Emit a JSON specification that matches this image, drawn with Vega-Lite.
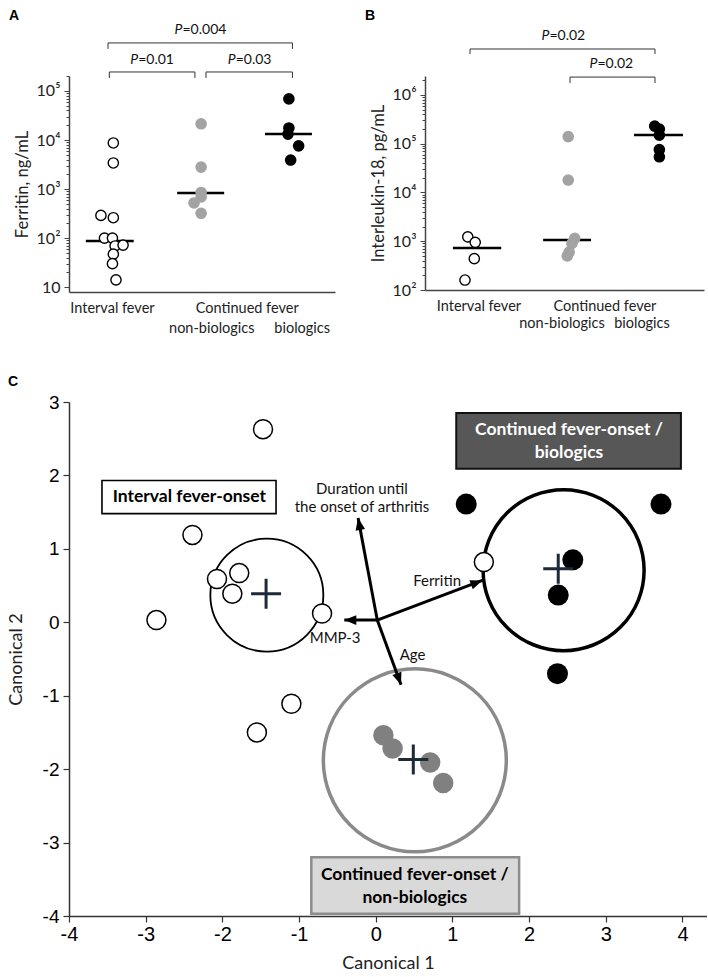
{
  "$schema": "https://vega.github.io/schema/vega-lite/v6.json",
  "padding": {"left": 7, "top": 8, "right": 0, "bottom": 0},
  "background": "white",
  "bounds": "flush",
  "spacing": 326,
  "config": {"view": {"stroke": null}, "axis": {"grid": false}, "font": "Lato"},
  "datasets": {
    "aPoints": [
      {"group": "Interval fever", "pos": 0.50, "ferritin": 8700},
      {"group": "Interval fever", "pos": 0.50, "ferritin": 3400},
      {"group": "Interval fever", "pos": 0.36, "ferritin": 290},
      {"group": "Interval fever", "pos": 0.50, "ferritin": 260},
      {"group": "Interval fever", "pos": 0.40, "ferritin": 100},
      {"group": "Interval fever", "pos": 0.49, "ferritin": 100},
      {"group": "Interval fever", "pos": 0.52, "ferritin": 69},
      {"group": "Interval fever", "pos": 0.61, "ferritin": 72},
      {"group": "Interval fever", "pos": 0.50, "ferritin": 47},
      {"group": "Interval fever", "pos": 0.49, "ferritin": 30},
      {"group": "Interval fever", "pos": 0.53, "ferritin": 14},
      {"group": "Continued fever, non-biologics", "pos": 1.49, "ferritin": 21400},
      {"group": "Continued fever, non-biologics", "pos": 1.49, "ferritin": 2800},
      {"group": "Continued fever, non-biologics", "pos": 1.49, "ferritin": 850},
      {"group": "Continued fever, non-biologics", "pos": 1.49, "ferritin": 690},
      {"group": "Continued fever, non-biologics", "pos": 1.41, "ferritin": 520},
      {"group": "Continued fever, non-biologics", "pos": 1.49, "ferritin": 320},
      {"group": "Continued fever, biologics", "pos": 2.48, "ferritin": 69000},
      {"group": "Continued fever, biologics", "pos": 2.48, "ferritin": 17600},
      {"group": "Continued fever, biologics", "pos": 2.47, "ferritin": 13200},
      {"group": "Continued fever, biologics", "pos": 2.59, "ferritin": 7600},
      {"group": "Continued fever, biologics", "pos": 2.50, "ferritin": 3900}
    ],
    "aMedian": [
      {"group": "Interval fever", "x1": 0.19, "x2": 0.73, "median": 87},
      {"group": "Continued fever, non-biologics", "x1": 1.22, "x2": 1.75, "median": 830},
      {"group": "Continued fever, biologics", "x1": 2.21, "x2": 2.74, "median": 13200}
    ],
    "aBrackets": [
      {"x1": 0.44, "x2": 2.52, "yb": 955000, "yt": 720000, "xs": 1.28, "yl": 1760000, "rest": "=0.004"},
      {"x1": 0.455, "x2": 1.42, "yb": 244000, "yt": 184000, "xs": 0.78, "yl": 430000, "rest": "=0.01"},
      {"x1": 1.545, "x2": 2.52, "yb": 244000, "yt": 184000, "xs": 1.88, "yl": 430000, "rest": "=0.03"}
    ],
    "aLabels": [
      {"x": 0.49, "y": 3.56, "label": "Interval fever"},
      {"x": 2.01, "y": 3.56, "label": "Continued fever"},
      {"x": 1.61, "y": 1.39, "label": "non-biologics"},
      {"x": 2.63, "y": 1.39, "label": "biologics"}
    ],
    "bPoints": [
      {"group": "Interval fever", "pos": 0.46, "il18": 1230},
      {"group": "Interval fever", "pos": 0.54, "il18": 950},
      {"group": "Interval fever", "pos": 0.53, "il18": 440},
      {"group": "Interval fever", "pos": 0.43, "il18": 160},
      {"group": "Continued fever, non-biologics", "pos": 1.54, "il18": 140000},
      {"group": "Continued fever, non-biologics", "pos": 1.54, "il18": 18000},
      {"group": "Continued fever, non-biologics", "pos": 1.61, "il18": 1150},
      {"group": "Continued fever, non-biologics", "pos": 1.58, "il18": 900},
      {"group": "Continued fever, non-biologics", "pos": 1.55, "il18": 600},
      {"group": "Continued fever, non-biologics", "pos": 1.53, "il18": 500},
      {"group": "Continued fever, biologics", "pos": 2.47, "il18": 230000},
      {"group": "Continued fever, biologics", "pos": 2.52, "il18": 200000},
      {"group": "Continued fever, biologics", "pos": 2.52, "il18": 150000},
      {"group": "Continued fever, biologics", "pos": 2.52, "il18": 76000},
      {"group": "Continued fever, biologics", "pos": 2.52, "il18": 54000}
    ],
    "bMedian": [
      {"group": "Interval fever", "x1": 0.30, "x2": 0.82, "median": 726},
      {"group": "Continued fever, non-biologics", "x1": 1.27, "x2": 1.785, "median": 1060},
      {"group": "Continued fever, biologics", "x1": 2.247, "x2": 2.774, "median": 151000}
    ],
    "bBrackets": [
      {"x1": 0.484, "x2": 2.473, "yb": 8770000, "yt": 6920000, "xs": 1.338, "yl": 16200000, "rest": "=0.02"},
      {"x1": 1.559, "x2": 2.473, "yb": 2330000, "yt": 1760000, "xs": 1.854, "yl": 4310000, "rest": "=0.02"}
    ],
    "bLabels": [
      {"x": 0.58, "y": 44.7, "label": "Interval fever"},
      {"x": 1.935, "y": 44.7, "label": "Continued fever"},
      {"x": 1.473, "y": 20.0, "label": "non-biologics"},
      {"x": 2.333, "y": 20.0, "label": "biologics"}
    ],
    "cPoints": [
      {"group": "Interval fever-onset", "canonical1": -1.47, "canonical2": 2.63},
      {"group": "Interval fever-onset", "canonical1": -2.39, "canonical2": 1.19},
      {"group": "Interval fever-onset", "canonical1": -2.86, "canonical2": 0.03},
      {"group": "Interval fever-onset", "canonical1": -2.07, "canonical2": 0.59},
      {"group": "Interval fever-onset", "canonical1": -1.78, "canonical2": 0.67},
      {"group": "Interval fever-onset", "canonical1": -1.87, "canonical2": 0.39},
      {"group": "Interval fever-onset", "canonical1": -0.70, "canonical2": 0.12},
      {"group": "Interval fever-onset", "canonical1": -1.10, "canonical2": -1.11},
      {"group": "Interval fever-onset", "canonical1": -1.55, "canonical2": -1.50},
      {"group": "Interval fever-onset", "canonical1": 1.41, "canonical2": 0.82},
      {"group": "Continued fever-onset / biologics", "canonical1": 1.18, "canonical2": 1.61},
      {"group": "Continued fever-onset / biologics", "canonical1": 3.72, "canonical2": 1.61},
      {"group": "Continued fever-onset / biologics", "canonical1": 2.57, "canonical2": 0.85},
      {"group": "Continued fever-onset / biologics", "canonical1": 2.38, "canonical2": 0.37},
      {"group": "Continued fever-onset / biologics", "canonical1": 2.37, "canonical2": -0.70},
      {"group": "Continued fever-onset / non-biologics", "canonical1": 0.10, "canonical2": -1.54},
      {"group": "Continued fever-onset / non-biologics", "canonical1": 0.22, "canonical2": -1.72},
      {"group": "Continued fever-onset / non-biologics", "canonical1": 0.71, "canonical2": -1.91},
      {"group": "Continued fever-onset / non-biologics", "canonical1": 0.88, "canonical2": -2.19}
    ],
    "cCentroids": [
      {"group": "Interval fever-onset", "canonical1": -1.43, "canonical2": 0.39},
      {"group": "Continued fever-onset / biologics", "canonical1": 2.38, "canonical2": 0.73},
      {"group": "Continued fever-onset / non-biologics", "canonical1": 0.49, "canonical2": -1.87}
    ],
    "cRings": [
      {"group": "Interval fever-onset", "canonical1": -1.42, "canonical2": 0.37},
      {"group": "Continued fever-onset / biologics", "canonical1": 2.45, "canonical2": 0.71},
      {"group": "Continued fever-onset / non-biologics", "canonical1": 0.51, "canonical2": -1.88}
    ],
    "cArrows": [
      {"variable": "MMP-3", "ox": 0.02, "oy": 0.03, "tx": -0.41, "ty": 0.03},
      {"variable": "Ferritin", "ox": 0.02, "oy": 0.03, "tx": 1.39, "ty": 0.57},
      {"variable": "Duration until the onset of arthritis", "ox": 0.02, "oy": 0.03, "tx": -0.23, "ty": 1.42},
      {"variable": "Age", "ox": 0.02, "oy": 0.03, "tx": 0.33, "ty": -0.85}
    ],
    "cArrowLabels": [
      {"label": "Duration until\nthe onset of arthritis", "x": -0.18, "y": 1.815},
      {"label": "Ferritin", "x": 0.80, "y": 0.56},
      {"label": "MMP-3", "x": -0.53, "y": -0.21},
      {"label": "Age", "x": 0.48, "y": -0.44}
    ],
    "cBoxes": [
      {"group": "Interval fever-onset", "x1": -3.57, "x2": -1.30, "y1": 1.93, "y2": 1.48, "cx": -2.43, "cy": 1.70, "text": "Interval fever-onset"},
      {"group": "Continued fever-onset / biologics", "x1": 1.05, "x2": 3.98, "y1": 2.85, "y2": 2.09, "cx": 2.52, "cy": 2.62, "text": "Continued fever-onset /\nbiologics"},
      {"group": "Continued fever-onset / non-biologics", "x1": -0.84, "x2": 1.87, "y1": -3.20, "y2": -3.97, "cx": 0.51, "cy": -3.435, "text": "Continued fever-onset /\nnon-biologics"}
    ]
  },
  "vconcat": [
    {
      "bounds": "flush",
      "spacing": 90,
      "hconcat": [
        {
          "width": 266,
          "height": 216,
          "title": {"text": "A", "anchor": "start", "frame": "group", "dx": -60, "offset": -11, "baseline": "alphabetic", "font": "Liberation Sans", "fontSize": 14, "fontWeight": "bold", "color": "#000"},
          "layer": [
            {
              "data": {"name": "aMedian"},
              "mark": {"type": "rule", "strokeWidth": 2.5, "color": "#000"},
              "encoding": {
                "x": {"field": "x1", "type": "quantitative", "scale": {"domain": [0, 3], "nice": false, "zero": false}, "axis": {"labels": false, "ticks": false, "title": null, "domainColor": "#444", "domainWidth": 1.5}},
                "x2": {"field": "x2"},
                "y": {"field": "median", "type": "quantitative", "scale": {"type": "log", "domain": [7.94, 202000], "nice": false},
                  "axis": {
                    "values": [10,20,30,40,50,60,70,80,90,100,200,300,400,500,600,700,800,900,1000,2000,3000,4000,5000,6000,7000,8000,9000,10000,20000,30000,40000,50000,60000,70000,80000,90000,100000,200000],
                    "labelExpr": "datum.value == 10 ? '10' : datum.value == 100 ? '10²' : datum.value == 1000 ? '10³' : datum.value == 10000 ? '10⁴' : datum.value == 100000 ? '10⁵' : ''",
                    "tickSize": {"condition": {"test": "indexof([10,100,1000,10000,100000], datum.value) >= 0", "value": 5}, "value": 3},
                    "labelOverlap": false, "labelFlush": false, "labelFont": "Lato", "labelFontSize": 16, "labelColor": "#222", "labelPadding": 4,
                    "domainColor": "#444", "domainWidth": 1.5, "tickColor": "#444", "tickWidth": 1,
                    "title": "Ferritin, ng/mL", "titleFont": "Lato", "titleFontSize": 16.5, "titleFontWeight": "normal", "titleColor": "#222", "titlePadding": 6
                  }}
              }
            },
            {
              "data": {"name": "aPoints"},
              "mark": {"type": "circle", "size": 105, "strokeWidth": 1.4, "opacity": 1},
              "encoding": {
                "x": {"field": "pos", "type": "quantitative", "scale": {"domain": [0, 3], "nice": false, "zero": false}},
                "y": {"field": "ferritin", "type": "quantitative", "scale": {"type": "log", "domain": [7.94, 202000], "nice": false}},
                "fill": {"field": "group", "type": "nominal", "scale": {"domain": ["Interval fever", "Continued fever, non-biologics", "Continued fever, biologics"], "range": ["#ffffff", "#a3a3a3", "#000000"]}, "legend": null},
                "stroke": {"field": "group", "type": "nominal", "scale": {"domain": ["Interval fever", "Continued fever, non-biologics", "Continued fever, biologics"], "range": ["#000000", "#a3a3a3", "#000000"]}, "legend": null}
              }
            },
            {
              "data": {"name": "aBrackets"},
              "mark": {"type": "rule", "strokeWidth": 1, "color": "#333"},
              "encoding": {
                "x": {"field": "x1", "type": "quantitative", "scale": {"domain": [0, 3], "nice": false, "zero": false}},
                "x2": {"field": "x2"},
                "y": {"field": "yb", "type": "quantitative", "scale": {"type": "log", "domain": [7.94, 202000], "nice": false}}
              }
            },
            {
              "data": {"name": "aBrackets"},
              "mark": {"type": "rule", "strokeWidth": 1, "color": "#333"},
              "encoding": {
                "x": {"field": "x1", "type": "quantitative", "scale": {"domain": [0, 3], "nice": false, "zero": false}},
                "y": {"field": "yb", "type": "quantitative", "scale": {"type": "log", "domain": [7.94, 202000], "nice": false}},
                "y2": {"field": "yt"}
              }
            },
            {
              "data": {"name": "aBrackets"},
              "mark": {"type": "rule", "strokeWidth": 1, "color": "#333"},
              "encoding": {
                "x": {"field": "x2", "type": "quantitative", "scale": {"domain": [0, 3], "nice": false, "zero": false}},
                "y": {"field": "yb", "type": "quantitative", "scale": {"type": "log", "domain": [7.94, 202000], "nice": false}},
                "y2": {"field": "yt"}
              }
            },
            {
              "data": {"name": "aBrackets"},
              "mark": {"type": "text", "align": "right", "baseline": "middle", "font": "Lato", "fontSize": 14, "fontStyle": "italic", "color": "#111"},
              "encoding": {
                "x": {"field": "xs", "type": "quantitative", "scale": {"domain": [0, 3], "nice": false, "zero": false}},
                "y": {"field": "yl", "type": "quantitative", "scale": {"type": "log", "domain": [7.94, 202000], "nice": false}},
                "text": {"value": "P"}
              }
            },
            {
              "data": {"name": "aBrackets"},
              "mark": {"type": "text", "align": "left", "baseline": "middle", "font": "Lato", "fontSize": 14, "color": "#111"},
              "encoding": {
                "x": {"field": "xs", "type": "quantitative", "scale": {"domain": [0, 3], "nice": false, "zero": false}},
                "y": {"field": "yl", "type": "quantitative", "scale": {"type": "log", "domain": [7.94, 202000], "nice": false}},
                "text": {"field": "rest"}
              }
            },
            {
              "data": {"name": "aLabels"},
              "mark": {"type": "text", "align": "center", "baseline": "middle", "font": "Lato", "fontSize": 14.5, "color": "#222"},
              "encoding": {
                "x": {"field": "x", "type": "quantitative", "scale": {"domain": [0, 3], "nice": false, "zero": false}},
                "y": {"field": "y", "type": "quantitative", "scale": {"type": "log", "domain": [7.94, 202000], "nice": false}},
                "text": {"field": "label"}
              }
            }
          ]
        },
        {
          "width": 279,
          "height": 214,
          "title": {"text": "B", "anchor": "start", "frame": "group", "dx": -60, "offset": -5, "baseline": "alphabetic", "font": "Liberation Sans", "fontSize": 14, "fontWeight": "bold", "color": "#000"},
          "layer": [
            {
              "data": {"name": "bMedian"},
              "mark": {"type": "rule", "strokeWidth": 2.5, "color": "#000"},
              "encoding": {
                "x": {"field": "x1", "type": "quantitative", "scale": {"domain": [0, 3], "nice": false, "zero": false}, "axis": {"labels": false, "ticks": false, "title": null, "domainColor": "#444", "domainWidth": 1.5}},
                "x2": {"field": "x2"},
                "y": {"field": "median", "type": "quantitative", "scale": {"type": "log", "domain": [100, 2450000], "nice": false},
                  "axis": {
                    "values": [100,200,300,400,500,600,700,800,900,1000,2000,3000,4000,5000,6000,7000,8000,9000,10000,20000,30000,40000,50000,60000,70000,80000,90000,100000,200000,300000,400000,500000,600000,700000,800000,900000,1000000,2000000],
                    "labelExpr": "datum.value == 100 ? '10²' : datum.value == 1000 ? '10³' : datum.value == 10000 ? '10⁴' : datum.value == 100000 ? '10⁵' : datum.value == 1000000 ? '10⁶' : ''",
                    "tickSize": {"condition": {"test": "indexof([100,1000,10000,100000,1000000], datum.value) >= 0", "value": 5}, "value": 3},
                    "labelOverlap": false, "labelFlush": false, "labelFont": "Lato", "labelFontSize": 16, "labelColor": "#222", "labelPadding": 4,
                    "domainColor": "#444", "domainWidth": 1.5, "tickColor": "#444", "tickWidth": 1,
                    "title": "Interleukin-18, pg/mL", "titleFont": "Lato", "titleFontSize": 16.5, "titleFontWeight": "normal", "titleColor": "#222", "titlePadding": 6
                  }}
              }
            },
            {
              "data": {"name": "bPoints"},
              "mark": {"type": "circle", "size": 105, "strokeWidth": 1.4, "opacity": 1},
              "encoding": {
                "x": {"field": "pos", "type": "quantitative", "scale": {"domain": [0, 3], "nice": false, "zero": false}},
                "y": {"field": "il18", "type": "quantitative", "scale": {"type": "log", "domain": [100, 2450000], "nice": false}},
                "fill": {"field": "group", "type": "nominal", "scale": {"domain": ["Interval fever", "Continued fever, non-biologics", "Continued fever, biologics"], "range": ["#ffffff", "#adadad", "#000000"]}, "legend": null},
                "stroke": {"field": "group", "type": "nominal", "scale": {"domain": ["Interval fever", "Continued fever, non-biologics", "Continued fever, biologics"], "range": ["#000000", "#adadad", "#000000"]}, "legend": null}
              }
            },
            {
              "data": {"name": "bBrackets"},
              "mark": {"type": "rule", "strokeWidth": 1, "color": "#333"},
              "encoding": {
                "x": {"field": "x1", "type": "quantitative", "scale": {"domain": [0, 3], "nice": false, "zero": false}},
                "x2": {"field": "x2"},
                "y": {"field": "yb", "type": "quantitative", "scale": {"type": "log", "domain": [100, 2450000], "nice": false}}
              }
            },
            {
              "data": {"name": "bBrackets"},
              "mark": {"type": "rule", "strokeWidth": 1, "color": "#333"},
              "encoding": {
                "x": {"field": "x1", "type": "quantitative", "scale": {"domain": [0, 3], "nice": false, "zero": false}},
                "y": {"field": "yb", "type": "quantitative", "scale": {"type": "log", "domain": [100, 2450000], "nice": false}},
                "y2": {"field": "yt"}
              }
            },
            {
              "data": {"name": "bBrackets"},
              "mark": {"type": "rule", "strokeWidth": 1, "color": "#333"},
              "encoding": {
                "x": {"field": "x2", "type": "quantitative", "scale": {"domain": [0, 3], "nice": false, "zero": false}},
                "y": {"field": "yb", "type": "quantitative", "scale": {"type": "log", "domain": [100, 2450000], "nice": false}},
                "y2": {"field": "yt"}
              }
            },
            {
              "data": {"name": "bBrackets"},
              "mark": {"type": "text", "align": "right", "baseline": "middle", "font": "Lato", "fontSize": 14, "fontStyle": "italic", "color": "#111"},
              "encoding": {
                "x": {"field": "xs", "type": "quantitative", "scale": {"domain": [0, 3], "nice": false, "zero": false}},
                "y": {"field": "yl", "type": "quantitative", "scale": {"type": "log", "domain": [100, 2450000], "nice": false}},
                "text": {"value": "P"}
              }
            },
            {
              "data": {"name": "bBrackets"},
              "mark": {"type": "text", "align": "left", "baseline": "middle", "font": "Lato", "fontSize": 14, "color": "#111"},
              "encoding": {
                "x": {"field": "xs", "type": "quantitative", "scale": {"domain": [0, 3], "nice": false, "zero": false}},
                "y": {"field": "yl", "type": "quantitative", "scale": {"type": "log", "domain": [100, 2450000], "nice": false}},
                "text": {"field": "rest"}
              }
            },
            {
              "data": {"name": "bLabels"},
              "mark": {"type": "text", "align": "center", "baseline": "middle", "font": "Lato", "fontSize": 14.5, "color": "#222"},
              "encoding": {
                "x": {"field": "x", "type": "quantitative", "scale": {"domain": [0, 3], "nice": false, "zero": false}},
                "y": {"field": "y", "type": "quantitative", "scale": {"type": "log", "domain": [100, 2450000], "nice": false}},
                "text": {"field": "label"}
              }
            }
          ]
        }
      ]
    },
    {
      "width": 638,
      "height": 514,
      "title": {"text": "C", "anchor": "start", "frame": "group", "dx": -61, "offset": -7, "baseline": "alphabetic", "font": "Liberation Sans", "fontSize": 14, "fontWeight": "bold", "color": "#000"},
      "resolve": {"scale": {"fill": "independent", "stroke": "independent", "size": "independent", "strokeWidth": "independent"}},
      "layer": [
        {
          "data": {"name": "cBoxes"},
          "mark": {"type": "rect"},
          "encoding": {
            "x": {"field": "x1", "type": "quantitative", "scale": {"domain": [-4, 4.32], "nice": false, "zero": false},
              "axis": {
                "values": [-4, -3, -2, -1, 0, 1, 2, 3, 4],
                "labelExpr": "'' + datum.value",
                "tickSize": 6, "labelFlush": false, "labelOverlap": false,
                "labelFont": "Liberation Sans", "labelFontSize": 20, "labelColor": "#000", "labelPadding": 2,
                "domainColor": "#333", "domainWidth": 1.5, "tickColor": "#333", "tickWidth": 1.2,
                "title": "Canonical 1", "titleFont": "Lato", "titleFontSize": 18, "titleFontWeight": "normal", "titleColor": "#222", "titlePadding": 10
              }},
            "x2": {"field": "x2"},
            "y": {"field": "y1", "type": "quantitative", "scale": {"domain": [-4, 3], "nice": false, "zero": false},
              "axis": {
                "values": [-4, -3.5, -3, -2.5, -2, -1.5, -1, -0.5, 0, 0.5, 1, 1.5, 2, 2.5, 3],
                "labelExpr": "datum.value % 1 == 0 ? '' + datum.value : ''",
                "tickSize": {"condition": {"test": "datum.value % 1 == 0", "value": 6}, "value": 4},
                "labelFlush": false, "labelOverlap": false,
                "labelFont": "Liberation Sans", "labelFontSize": 19, "labelColor": "#000", "labelPadding": 4,
                "domainColor": "#333", "domainWidth": 1.5, "tickColor": "#333", "tickWidth": 1.2,
                "title": "Canonical 2", "titleFont": "Lato", "titleFontSize": 18, "titleFontWeight": "normal", "titleColor": "#222", "titlePadding": 17
              }},
            "y2": {"field": "y2"},
            "fill": {"field": "group", "type": "nominal", "scale": {"domain": ["Interval fever-onset", "Continued fever-onset / biologics", "Continued fever-onset / non-biologics"], "range": ["#ffffff", "#575757", "#d9d9d9"]}, "legend": null},
            "stroke": {"field": "group", "type": "nominal", "scale": {"domain": ["Interval fever-onset", "Continued fever-onset / biologics", "Continued fever-onset / non-biologics"], "range": ["#000000", "#111111", "#8c8c8c"]}, "legend": null},
            "strokeWidth": {"field": "group", "type": "nominal", "scale": {"type": "ordinal", "domain": ["Interval fever-onset", "Continued fever-onset / biologics", "Continued fever-onset / non-biologics"], "range": [1.6, 2, 2.5]}, "legend": null}
          }
        },
        {
          "data": {"name": "cRings"},
          "mark": {"type": "point", "shape": "circle", "filled": false, "opacity": 1},
          "encoding": {
            "x": {"field": "canonical1", "type": "quantitative", "scale": {"domain": [-4, 4.32], "nice": false, "zero": false}},
            "y": {"field": "canonical2", "type": "quantitative", "scale": {"domain": [-4, 3], "nice": false, "zero": false}},
            "size": {"field": "group", "type": "nominal", "scale": {"type": "ordinal", "domain": ["Interval fever-onset", "Continued fever-onset / biologics", "Continued fever-onset / non-biologics"], "range": [12769, 25921, 33489]}, "legend": null},
            "stroke": {"field": "group", "type": "nominal", "scale": {"domain": ["Interval fever-onset", "Continued fever-onset / biologics", "Continued fever-onset / non-biologics"], "range": ["#000000", "#000000", "#8a8a8a"]}, "legend": null},
            "strokeWidth": {"field": "group", "type": "nominal", "scale": {"type": "ordinal", "domain": ["Interval fever-onset", "Continued fever-onset / biologics", "Continued fever-onset / non-biologics"], "range": [1.8, 3.5, 3.5]}, "legend": null}
          }
        },
        {
          "data": {"name": "cArrows"},
          "mark": {"type": "rule", "strokeWidth": 3, "color": "#000"},
          "encoding": {
            "x": {"field": "ox", "type": "quantitative", "scale": {"domain": [-4, 4.32], "nice": false, "zero": false}},
            "x2": {"field": "tx"},
            "y": {"field": "oy", "type": "quantitative", "scale": {"domain": [-4, 3], "nice": false, "zero": false}},
            "y2": {"field": "ty"}
          }
        },
        {
          "data": {"name": "cArrows"},
          "transform": [{"calculate": "atan2((datum.tx - datum.ox) * 76.7, (datum.ty - datum.oy) * 73.5) * 180 / PI", "as": "heading"}],
          "mark": {"type": "point", "shape": "M0,0L-0.6,1.5L0.6,1.5Z", "filled": true, "size": 256, "color": "#000", "opacity": 1},
          "encoding": {
            "x": {"field": "tx", "type": "quantitative", "scale": {"domain": [-4, 4.32], "nice": false, "zero": false}},
            "y": {"field": "ty", "type": "quantitative", "scale": {"domain": [-4, 3], "nice": false, "zero": false}},
            "angle": {"field": "heading", "type": "quantitative", "scale": null}
          }
        },
        {
          "data": {"name": "cPoints"},
          "mark": {"type": "point", "shape": "circle", "filled": true, "opacity": 1},
          "encoding": {
            "x": {"field": "canonical1", "type": "quantitative", "scale": {"domain": [-4, 4.32], "nice": false, "zero": false}},
            "y": {"field": "canonical2", "type": "quantitative", "scale": {"domain": [-4, 3], "nice": false, "zero": false}},
            "fill": {"field": "group", "type": "nominal", "scale": {"domain": ["Interval fever-onset", "Continued fever-onset / biologics", "Continued fever-onset / non-biologics"], "range": ["#ffffff", "#000000", "#808080"]}, "legend": null},
            "stroke": {"field": "group", "type": "nominal", "scale": {"domain": ["Interval fever-onset", "Continued fever-onset / biologics", "Continued fever-onset / non-biologics"], "range": ["#000000", "#000000", "#808080"]}, "legend": null},
            "strokeWidth": {"field": "group", "type": "nominal", "scale": {"type": "ordinal", "domain": ["Interval fever-onset", "Continued fever-onset / biologics", "Continued fever-onset / non-biologics"], "range": [1.5, 0, 0]}, "legend": null},
            "size": {"field": "group", "type": "nominal", "scale": {"type": "ordinal", "domain": ["Interval fever-onset", "Continued fever-onset / biologics", "Continued fever-onset / non-biologics"], "range": [361, 441, 420]}, "legend": null}
          }
        },
        {
          "data": {"name": "cCentroids"},
          "mark": {"type": "point", "shape": "M-1,0L1,0M0,-1L0,1", "filled": false, "size": 900, "strokeWidth": 3, "color": "#1c2a3a", "opacity": 1},
          "encoding": {
            "x": {"field": "canonical1", "type": "quantitative", "scale": {"domain": [-4, 4.32], "nice": false, "zero": false}},
            "y": {"field": "canonical2", "type": "quantitative", "scale": {"domain": [-4, 3], "nice": false, "zero": false}}
          }
        },
        {
          "data": {"name": "cArrowLabels"},
          "mark": {"type": "text", "align": "center", "baseline": "middle", "font": "Lato", "fontSize": 15, "lineBreak": "\n", "lineHeight": 18, "color": "#111"},
          "encoding": {
            "x": {"field": "x", "type": "quantitative", "scale": {"domain": [-4, 4.32], "nice": false, "zero": false}},
            "y": {"field": "y", "type": "quantitative", "scale": {"domain": [-4, 3], "nice": false, "zero": false}},
            "text": {"field": "label"}
          }
        },
        {
          "data": {"name": "cBoxes"},
          "mark": {"type": "text", "align": "center", "baseline": "middle", "font": "Lato", "fontSize": 17.5, "fontWeight": "bold", "lineBreak": "\n", "lineHeight": 23},
          "encoding": {
            "x": {"field": "cx", "type": "quantitative", "scale": {"domain": [-4, 4.32], "nice": false, "zero": false}},
            "y": {"field": "cy", "type": "quantitative", "scale": {"domain": [-4, 3], "nice": false, "zero": false}},
            "text": {"field": "text"},
            "fill": {"field": "group", "type": "nominal", "scale": {"domain": ["Interval fever-onset", "Continued fever-onset / biologics", "Continued fever-onset / non-biologics"], "range": ["#000000", "#ffffff", "#000000"]}, "legend": null}
          }
        }
      ]
    }
  ]
}
